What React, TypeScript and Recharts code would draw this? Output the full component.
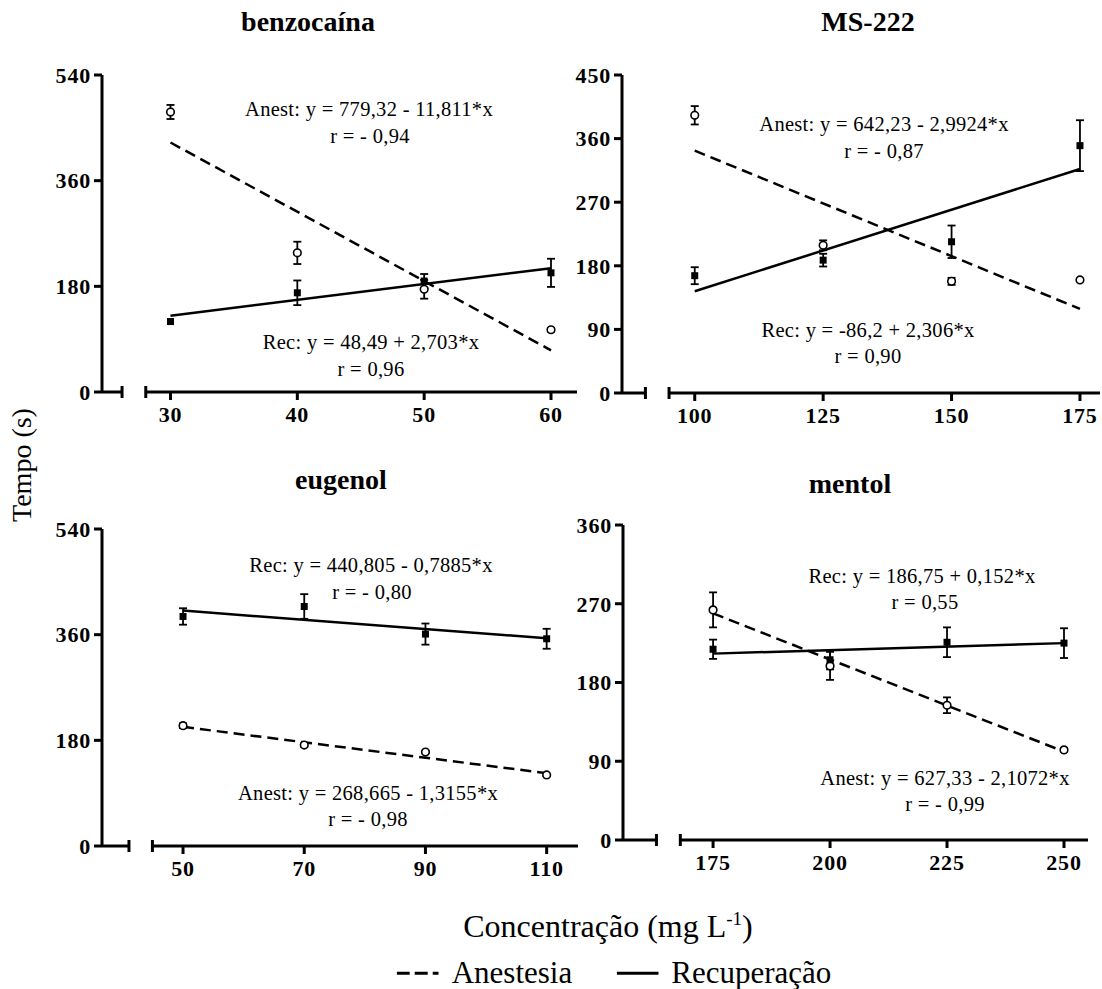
import React from "react";
import { ComposedChart, Scatter, Line, XAxis, YAxis, ErrorBar, ReferenceLine } from "recharts";

const FONT = '"Liberation Serif", "DejaVu Serif", serif';

// benzocaína
const benzoConc = [30, 40, 50, 60];
const benzoAnest = [477, 237, 175, 106];
const benzoAnestErr = [12, 19, 16, 3];
const benzoRec = [120, 169, 189, 203];
const benzoRecErr = [0, 21, 12, 24];
const benzoAnestFit = [425, 71];
const benzoRecFit = [130, 211];
const benzoYTicks = [0, 180, 360, 540];

// MS-222
const msConc = [100, 125, 150, 175];
const msAnest = [393, 209, 158, 160];
const msAnestErr = [13, 7, 5, 2];
const msRec = [166, 188, 214, 350];
const msRecErr = [12, 9, 23, 36];
const msAnestFit = [343, 119];
const msRecFit = [144, 317];
const msYTicks = [0, 90, 180, 270, 360, 450];

// eugenol
const eugConc = [50, 70, 90, 110];
const eugAnest = [205, 172, 160, 121];
const eugAnestErr = [4, 3, 2, 2];
const eugRec = [391, 408, 361, 353];
const eugRecErr = [14, 21, 18, 17];
const eugAnestFit = [203, 124];
const eugRecFit = [401, 354];
const eugYTicks = [0, 180, 360, 540];

// mentol
const menConc = [175, 200, 225, 250];
const menAnest = [263, 199, 154, 103];
const menAnestErr = [20, 16, 9, 2];
const menRec = [218, 206, 226, 225];
const menRecErr = [11, 11, 17, 17];
const menAnestFit = [259, 101];
const menRecFit = [213, 225];
const menYTicks = [0, 90, 180, 270, 360];

const panels = [
  {
    title: "benzocaína", titleX: 308, titleY: 22,
    conc: benzoConc, anest: benzoAnest, anestErr: benzoAnestErr, rec: benzoRec, recErr: benzoRecErr,
    anestFit: benzoAnestFit, recFit: benzoRecFit, yTicks: benzoYTicks,
    xDomain: [24.6, 62.05], stubEnd: 26.18, mainStart: 28.05,
    chartX: 0, chartW: 590, plotLeft: 102, plotRight: 577, plotTop: 75, plotBottom: 392,
    notes: [
      { text: "Anest: y =  779,32 - 11,811*x", x: 369, y: 110 },
      { text: "r = - 0,94", x: 370, y: 137 },
      { text: "Rec: y = 48,49 + 2,703*x", x: 371, y: 343 },
      { text: "r = 0,96", x: 371, y: 370 },
    ],
  },
  {
    title: "MS-222", titleX: 868, titleY: 22,
    conc: msConc, anest: msAnest, anestErr: msAnestErr, rec: msRec, recErr: msRecErr,
    anestFit: msAnestFit, recFit: msRecFit, yTicks: msYTicks,
    xDomain: [85.84, 178.9], stubEnd: 90.4, mainStart: 95.0,
    chartX: 540, chartW: 562, plotLeft: 622, plotRight: 1100, plotTop: 75, plotBottom: 393,
    notes: [
      { text: "Anest: y = 642,23 - 2,9924*x", x: 884, y: 125 },
      { text: "r = - 0,87", x: 884, y: 152 },
      { text: "Rec: y =  -86,2 + 2,306*x", x: 868, y: 331 },
      { text: "r = 0,90", x: 868, y: 357 },
    ],
  },
  {
    title: "eugenol", titleX: 341, titleY: 480,
    conc: eugConc, anest: eugAnest, anestErr: eugAnestErr, rec: eugRec, recErr: eugRecErr,
    anestFit: eugAnestFit, recFit: eugRecFit, yTicks: eugYTicks,
    xDomain: [36.63, 115.17], stubEnd: 41.08, mainStart: 44.95,
    chartX: 0, chartW: 590, plotLeft: 102, plotRight: 578, plotTop: 529, plotBottom: 846,
    notes: [
      { text: "Rec: y = 440,805 - 0,7885*x", x: 371, y: 566 },
      { text: "r = - 0,80", x: 372, y: 593 },
      { text: "Anest: y = 268,665 - 1,3155*x", x: 368, y: 794 },
      { text: "r = - 0,98", x: 368, y: 820 },
    ],
  },
  {
    title: "mentol", titleX: 850, titleY: 484,
    conc: menConc, anest: menAnest, anestErr: menAnestErr, rec: menRec, recErr: menRecErr,
    anestFit: menAnestFit, recFit: menRecFit, yTicks: menYTicks,
    xDomain: [155.75, 255.13], stubEnd: 162.9, mainStart: 168.0,
    chartX: 540, chartW: 562, plotLeft: 623, plotRight: 1088, plotTop: 525, plotBottom: 840,
    notes: [
      { text: "Rec: y = 186,75 + 0,152*x", x: 922, y: 577 },
      { text: "r =  0,55", x: 925, y: 603 },
      { text: "Anest: y = 627,33 - 2,1072*x", x: 945, y: 779 },
      { text: "r = - 0,99", x: 945, y: 805 },
    ],
  },
];

const tickStyle = { fill: "#000", fontSize: 22, fontWeight: 700, fontFamily: FONT, letterSpacing: 0.8 };

const OpenCircle = (p: any) => (
  <circle cx={p.cx} cy={p.cy} r={3.8} fill="#fff" stroke="#000" strokeWidth={1.6} />
);
const FilledSquare = (p: any) => (
  <rect x={p.cx - 3.5} y={p.cy - 3.5} width={7} height={7} fill="#000" />
);

// x-axis piece with a perpendicular cap at one end (broken axis look)
const axisPiece = (capAt: "start" | "end") => (p: any) => {
  const cx = capAt === "start" ? p.x1 : p.x2;
  return (
    <g>
      <line x1={p.x1} y1={p.y1} x2={p.x2} y2={p.y2} stroke="#000" strokeWidth={3} />
      <line x1={cx} y1={p.y1 - 6} x2={cx} y2={p.y1 + 6} stroke="#000" strokeWidth={3} />
    </g>
  );
};

function Panel({ cfg }: { cfg: any }) {
  const anestPts = cfg.conc.map((x: number, i: number) => ({ x, y: cfg.anest[i], err: cfg.anestErr[i] }));
  const recPts = cfg.conc.map((x: number, i: number) => ({ x, y: cfg.rec[i], err: cfg.recErr[i] }));
  const first = cfg.conc[0];
  const last = cfg.conc[cfg.conc.length - 1];
  const anestLine = [{ x: first, y: cfg.anestFit[0] }, { x: last, y: cfg.anestFit[1] }];
  const recLine = [{ x: first, y: cfg.recFit[0] }, { x: last, y: cfg.recFit[1] }];
  const topPad = 50;
  const xh = 45;
  const height = topPad + (cfg.plotBottom - cfg.plotTop) + xh;
  const yMax = cfg.yTicks[cfg.yTicks.length - 1];

  return (
    <div style={{ position: "absolute", left: cfg.chartX, top: cfg.plotTop - topPad }}>
      <ComposedChart
        width={cfg.chartW}
        height={height}
        margin={{ top: topPad, right: cfg.chartX + cfg.chartW - cfg.plotRight, left: 0, bottom: 0 }}
      >
        <XAxis
          type="number"
          dataKey="x"
          domain={cfg.xDomain}
          ticks={cfg.conc}
          allowDataOverflow
          interval={0}
          axisLine={false}
          tickLine={{ stroke: "#000", strokeWidth: 3 }}
          tickSize={8}
          tickMargin={6}
          tick={tickStyle}
          height={xh}
        />
        <YAxis
          type="number"
          dataKey="y"
          domain={[0, yMax]}
          ticks={cfg.yTicks}
          allowDataOverflow
          interval={0}
          width={cfg.plotLeft - cfg.chartX}
          axisLine={{ stroke: "#000", strokeWidth: 3 }}
          tickLine={{ stroke: "#000", strokeWidth: 3 }}
          tickSize={8}
          tickMargin={3}
          tick={tickStyle}
        />
        <ReferenceLine
          segment={[{ x: cfg.xDomain[0], y: 0 }, { x: cfg.stubEnd, y: 0 }]}
          ifOverflow="visible"
          shape={axisPiece("end")}
        />
        <ReferenceLine
          segment={[{ x: cfg.mainStart, y: 0 }, { x: cfg.xDomain[1], y: 0 }]}
          ifOverflow="visible"
          shape={axisPiece("start")}
        />
        <Line
          data={anestLine}
          dataKey="y"
          stroke="#000"
          strokeWidth={2.5}
          strokeDasharray="11 6"
          dot={false}
          activeDot={false}
          isAnimationActive={false}
        />
        <Line
          data={recLine}
          dataKey="y"
          stroke="#000"
          strokeWidth={2.5}
          dot={false}
          activeDot={false}
          isAnimationActive={false}
        />
        <Scatter data={anestPts} shape={OpenCircle} isAnimationActive={false}>
          <ErrorBar dataKey="err" direction="y" width={4} stroke="#000" strokeWidth={1.8} />
        </Scatter>
        <Scatter data={recPts} shape={FilledSquare} isAnimationActive={false}>
          <ErrorBar dataKey="err" direction="y" width={4} stroke="#000" strokeWidth={1.8} />
        </Scatter>
      </ComposedChart>
    </div>
  );
}

const centered: React.CSSProperties = {
  position: "absolute",
  transform: "translate(-50%, -50%)",
  whiteSpace: "nowrap",
  color: "#000",
  lineHeight: 1.15,
};

export default function App() {
  return (
    <div
      style={{
        position: "absolute",
        left: 0,
        top: 0,
        width: 1102,
        height: 989,
        background: "#fff",
        fontFamily: FONT,
        overflow: "hidden",
      }}
    >
      {panels.map((cfg) => (
        <Panel key={cfg.title} cfg={cfg} />
      ))}
      {panels.map((cfg) => (
        <div key={cfg.title + "-t"} style={{ ...centered, left: cfg.titleX, top: cfg.titleY, fontSize: 28, fontWeight: 700 }}>
          {cfg.title}
        </div>
      ))}
      {panels.flatMap((cfg) =>
        cfg.notes.map((n) => (
          <div key={cfg.title + n.text} style={{ ...centered, left: n.x, top: n.y, fontSize: 20.5, letterSpacing: 0.3 }}>
            {n.text}
          </div>
        ))
      )}
      <div style={{ ...centered, left: 22, top: 465, fontSize: 28, transform: "translate(-50%, -50%) rotate(-90deg)" }}>
        Tempo (s)
      </div>
      <div style={{ ...centered, left: 608, top: 926, fontSize: 32 }}>
        Concentração (mg L<sup style={{ fontSize: 19 }}>-1</sup>)
      </div>
      <div style={{ ...centered, left: 614, top: 973, fontSize: 31, display: "flex", alignItems: "center" }}>
        <svg width={42} height={10} style={{ marginRight: 13 }}>
          <line x1={0} y1={5} x2={42} y2={5} stroke="#000" strokeWidth={3} strokeDasharray="13 5" />
        </svg>
        <span>Anestesia</span>
        <svg width={42} height={10} style={{ marginLeft: 44, marginRight: 13 }}>
          <line x1={0} y1={5} x2={42} y2={5} stroke="#000" strokeWidth={3} />
        </svg>
        <span>Recuperação</span>
      </div>
    </div>
  );
}
